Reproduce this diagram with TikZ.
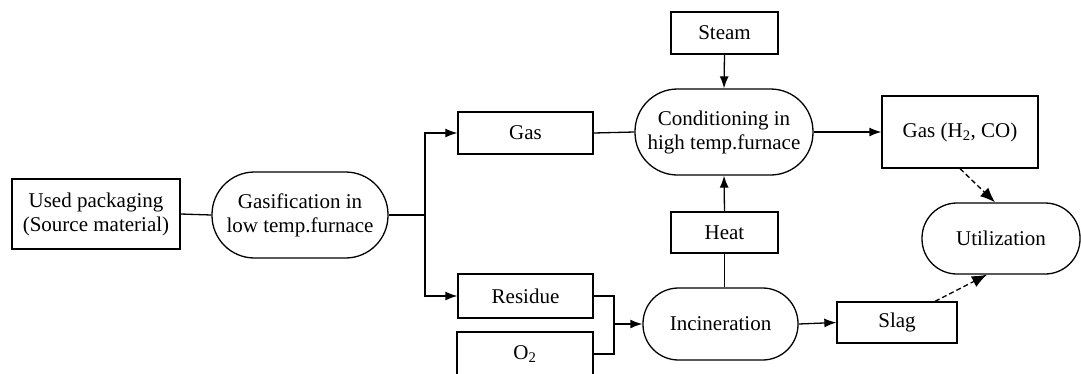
\documentclass[tikz,border=0pt]{standalone}
\usepackage{fontspec}
\setmainfont{Liberation Serif}
\usetikzlibrary{arrows.meta}
\tikzset{
  box/.style={draw, line width=1.3pt, inner sep=0pt, align=center, font=\fontsize{21}{24}\selectfont},
  pill/.style={box, rounded corners=#1},
  tip/.style={-{Latex[length=12pt,width=9pt]}},
  dtip/.style={dashed, dash pattern=on 5pt off 3pt, -{Latex[length=15pt,width=12pt]}},
  conn/.style={line width=1.3pt}
}
\begin{document}
\begin{tikzpicture}[x=1pt,y=-1pt]
\useasboundingbox (0,0) rectangle (1081,373);
\fill[white] (0,0) rectangle (1081,373);
\node[box, minimum width=168pt, minimum height=70pt] (used) at (96,214) {Used packaging\\(Source material)};
\node[pill=42.5pt, minimum width=176pt, minimum height=86pt] (gasif) at (300,215) {Gasification in\\low temp.furnace};
\node[box, minimum width=135pt, minimum height=42pt] (gas) at (525.5,133) {Gas};
\node[pill=42.5pt, minimum width=178pt, minimum height=86pt] (cond) at (724,132) {Conditioning in\\high temp.furnace};
\node[box, minimum width=107pt, minimum height=42pt] (steam) at (724.5,33) {Steam};
\node[box, minimum width=107pt, minimum height=41pt] (heat) at (724.5,232.5) {Heat};
\node[box, minimum width=135pt, minimum height=44pt] (residue) at (525.5,296) {Residue};
\node[box, minimum width=136pt, minimum height=44pt] (o2) at (525,354) {O\textsubscript{2}};
\node[pill=35.5pt, minimum width=155pt, minimum height=72pt] (incin) at (720.5,324) {Incineration};
\node[box, minimum width=156pt, minimum height=72pt] (gash) at (960,132) {Gas (H\textsubscript{2}, CO)};
\node[pill=35pt, minimum width=158pt, minimum height=71pt] (util) at (1001,238.5) {Utilization};
\node[box, minimum width=120pt, minimum height=41pt] (slag) at (897,322.5) {Slag};
\coordinate (jn) at (425,215);
\coordinate (mg) at (614,324);
\draw[conn] (used.east) -- (gasif.west);
\draw[conn] (gasif.east) -- (jn);
\draw[conn, tip] (jn) |- (gas.west);
\draw[conn, tip] (jn) |- (residue.west);
\draw[conn] (gas.east) -- (cond.west);
\draw[conn, tip] (steam.south) -- (cond.north);
\draw[conn, tip] (heat.north) -- (cond.south);
\draw[conn] (heat.south) -- (heat.south |- incin.north);
\draw[conn] (residue.east) -| (mg);
\draw[conn] (o2.east) -| (mg);
\draw[conn, tip] (mg) -- (incin.west);
\draw[conn, tip] (cond.east) -- (gash.west);
\draw[conn, tip] (incin.east) -- (slag.west);
\draw[conn, dtip] (gash.south) -- ([xshift=-6pt]util.north);
\draw[conn, dtip] ([xshift=38pt]slag.north) -- ([xshift=-14pt]util.south);
\end{tikzpicture}
\end{document}
